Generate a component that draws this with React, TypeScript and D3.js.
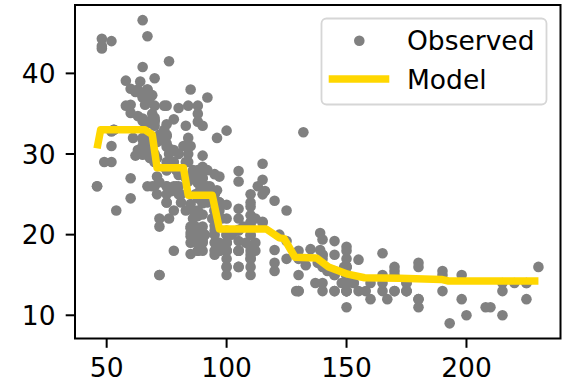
import React from 'react';
import * as d3 from 'd3';

// horsepower / mpg pairs (observed cars)
const horsepower = [
  130, 165, 150, 150, 140, 198, 220, 215, 225, 190, 170, 160, 150, 225, 95, 95, 97, 85, 88, 46,
  87, 90, 95, 113, 90, 215, 200, 210, 193, 88, 90, 95, 100, 105, 100, 88, 100, 165, 175, 153,
  150, 180, 170, 175, 110, 72, 100, 88, 86, 90, 70, 76, 65, 69, 60, 70, 95, 80, 54, 90,
  86, 165, 175, 150, 153, 150, 208, 155, 160, 190, 97, 150, 130, 140, 150, 112, 76, 87, 69, 86,
  92, 97, 80, 88, 175, 150, 145, 137, 150, 198, 150, 158, 150, 215, 225, 175, 105, 100, 100, 88,
  95, 46, 150, 167, 170, 180, 100, 88, 72, 94, 90, 85, 107, 90, 145, 230, 49, 75, 91, 112,
  150, 110, 122, 180, 95, 100, 100, 67, 80, 65, 75, 100, 110, 105, 140, 150, 150, 140, 150, 83,
  67, 78, 52, 61, 75, 75, 75, 97, 93, 67, 95, 105, 72, 72, 170, 145, 150, 148, 110, 105,
  110, 95, 110, 110, 129, 75, 83, 100, 78, 96, 71, 97, 97, 70, 90, 95, 88, 98, 115, 53,
  86, 81, 92, 79, 83, 140, 150, 120, 152, 100, 105, 81, 90, 52, 60, 70, 53, 100, 78, 110,
  95, 71, 70, 75, 72, 102, 150, 88, 108, 120, 180, 145, 130, 150, 68, 80, 58, 96, 70, 145,
  110, 145, 130, 110, 105, 100, 98, 180, 170, 190, 149, 78, 88, 75, 89, 63, 83, 67, 78, 97,
  110, 110, 48, 66, 52, 70, 60, 110, 140, 139, 105, 95, 85, 88, 100, 90, 105, 85, 110, 120,
  145, 165, 139, 140, 68, 95, 97, 75, 95, 105, 85, 97, 103, 125, 115, 133, 71, 68, 115, 85,
  88, 90, 110, 130, 129, 138, 135, 155, 142, 125, 150, 71, 65, 80, 80, 77, 125, 71, 90, 70,
  70, 65, 69, 90, 115, 115, 90, 76, 60, 70, 65, 90, 88, 90, 90, 78, 90, 75, 92, 75,
  65, 105, 65, 48, 48, 67, 67, 67, 67, 62, 132, 100, 88, 72, 84, 84, 92, 110, 84, 58,
  64, 60, 67, 65, 62, 68, 63, 65, 65, 74, 75, 75, 100, 74, 80, 76, 116, 120, 110, 105,
  88, 85, 88, 88, 88, 85, 84, 90, 92, 74, 68, 68, 63, 70, 88, 75, 70, 67, 67, 67,
  110, 85, 92, 112, 96, 84, 90, 86, 52, 84, 79, 82
];

const mpg = [
  18, 15, 18, 16, 17, 15, 14, 14, 14, 15, 15, 14, 15, 14, 24, 22, 18, 21, 27, 26,
  25, 24, 25, 26, 21, 10, 10, 11, 9, 27, 28, 25, 19, 16, 17, 19, 18, 14, 14, 14,
  14, 12, 13, 13, 18, 22, 19, 18, 23, 28, 30, 30, 31, 35, 27, 26, 24, 25, 23, 20,
  21, 13, 14, 15, 14, 17, 11, 13, 12, 13, 19, 15, 13, 13, 14, 18, 22, 21, 26, 22,
  28, 23, 28, 27, 13, 14, 13, 14, 15, 12, 13, 13, 14, 13, 12, 13, 18, 16, 18, 18,
  23, 26, 11, 12, 13, 12, 18, 20, 21, 22, 18, 19, 21, 26, 15, 16, 29, 24, 20, 19,
  15, 24, 20, 11, 20, 19, 15, 31, 26, 32, 25, 16, 16, 18, 16, 13, 14, 14, 14, 29,
  26, 26, 31, 32, 28, 24, 26, 24, 26, 31, 19, 18, 15, 15, 16, 15, 16, 14, 17, 16,
  15, 18, 21, 20, 13, 29, 23, 20, 23, 24, 25, 24, 18, 29, 19, 23, 23, 22, 25, 33,
  28, 25, 25, 26, 27, 17.5, 16, 15.5, 14.5, 22, 22, 24, 22.5, 29, 24.5, 29, 33, 20, 18, 18.5,
  17.5, 29.5, 32, 28, 26.5, 20, 13, 19, 19, 16.5, 16.5, 13, 13, 13, 31.5, 30, 36, 25.5, 33.5, 17.5,
  17, 15.5, 15, 17.5, 20.5, 19, 18.5, 16, 15.5, 15.5, 16, 29, 24.5, 26, 25.5, 30.5, 33.5, 30, 30.5, 22,
  21.5, 21.5, 43.1, 36.1, 32.8, 39.4, 36.1, 19.9, 19.4, 20.2, 19.2, 20.5, 20.2, 25.1, 20.5, 19.4, 20.6, 20.8, 18.6, 18.1,
  19.2, 17.7, 18.1, 17.5, 30, 27.5, 27.2, 30.9, 21.1, 23.2, 23.8, 23.9, 20.3, 17, 21.6, 16.2, 31.5, 29.5, 21.5, 19.8,
  22.3, 20.2, 20.6, 17, 17.6, 16.5, 18.2, 16.9, 15.5, 19.2, 18.5, 31.9, 34.1, 35.7, 27.4, 25.4, 23, 27.2, 23.9, 34.2,
  34.5, 31.8, 37.3, 28.4, 28.8, 26.8, 33.5, 41.5, 38.1, 32.1, 37.2, 28, 26.4, 24.3, 19.1, 34.3, 29.8, 31.3, 37, 32.2,
  46.6, 27.9, 40.8, 44.3, 43.4, 36.4, 30, 44.6, 33.8, 29.8, 32.7, 23.7, 35, 32.4, 27.2, 26.6, 25.8, 23.5, 30, 39.1,
  39, 35.1, 32.3, 37, 37.7, 34.1, 34.7, 34.4, 29.9, 33, 33.7, 32.4, 32.9, 31.6, 28.1, 30.7, 25.4, 24.2, 22.4, 26.6,
  20.2, 17.6, 28, 27, 34, 31, 29, 27, 24, 36, 37, 31, 38, 36, 36, 36, 34, 38, 32, 38,
  25, 38, 26, 22, 32, 36, 27, 27, 44, 32, 28, 31
];

// model prediction (step-like fit)
const modelHp = [46, 47.5, 66, 69, 71, 82, 84, 94, 97, 116.5, 122, 124, 128.5, 137.5, 142.5, 150.5, 157.5, 172, 189.5, 192.5, 230];
const modelMpg = [30.7, 33.0, 33.0, 32.4, 28.3, 28.3, 24.9, 24.9, 20.7, 20.7, 19.6, 19.5, 17.2, 17.1, 16.0, 15.1, 14.65, 14.6, 14.45, 14.25, 14.25];

const xTicks = [50, 100, 150, 200];
const yTicks = [10, 20, 30, 40];

const W = 564;
const H = 382;
const FONT = 'DejaVu Sans, sans-serif';
const FS = 26.5;

const App: React.FC = () => {
  const left = 75, right = 560.5, top = 5, bottom = 338.5;

  const x = d3.scaleLinear().domain([36.8, 239.2]).range([left, right]);
  const y = d3.scaleLinear().domain([7.12, 48.48]).range([bottom, top]);

  const points = horsepower.map((h, i) => ({ h, m: mpg[i] }));
  const model = modelHp.map((h, i) => [h, modelMpg[i]] as [number, number]);

  const line = d3.line<[number, number]>()
    .x(d => x(d[0]))
    .y(d => y(d[1]));

  return (
    <svg width={W} height={H} style={{ position: 'absolute', left: 0, top: 0, background: '#fff' }}
      fontFamily={FONT}>
      <rect x={0} y={0} width={W} height={H} fill="#fff" />

      {/* observed points */}
      <g fill="#808080">
        {points.map((p, i) => (
          <circle key={i} cx={x(p.h)} cy={y(p.m)} r={5.3} />
        ))}
      </g>

      {/* model line */}
      <path d={line(model) || ''} fill="none" stroke="#FFD700" strokeWidth={7.5}
        strokeLinejoin="round" strokeLinecap="butt" />

      {/* spines */}
      <rect x={left} y={top} width={right - left} height={bottom - top}
        fill="none" stroke="#000" strokeWidth={2} />

      {/* x axis */}
      <g>
        {xTicks.map(t => (
          <g key={t} transform={`translate(${x(t)},0)`}>
            <line y1={bottom} y2={bottom + 9.3} stroke="#000" strokeWidth={2} />
            <text y={376.5} textAnchor="middle" fontSize={FS} fill="#000">{t}</text>
          </g>
        ))}
      </g>

      {/* y axis */}
      <g>
        {yTicks.map(t => (
          <g key={t} transform={`translate(0,${y(t)})`}>
            <line x1={left - 9.3} x2={left} stroke="#000" strokeWidth={2} />
            <text x={55.5} dy={9.5} textAnchor="end" fontSize={FS} fill="#000">{t}</text>
          </g>
        ))}
      </g>

      {/* legend */}
      <g>
        <rect x={321.5} y={18.5} width={225} height={86} rx={5} ry={5}
          fill="#fff" fillOpacity={0.8} stroke="#d6d6d6" strokeWidth={1.8} />
        <circle cx={359.3} cy={40.7} r={5.3} fill="#808080" />
        <text x={407} y={50} fontSize={FS} fill="#000">Observed</text>
        <line x1={328.7} x2={389.3} y1={79} y2={79} stroke="#FFD700" strokeWidth={7.5} />
        <text x={407} y={88.5} fontSize={FS} fill="#000">Model</text>
      </g>
    </svg>
  );
};

export default App;
